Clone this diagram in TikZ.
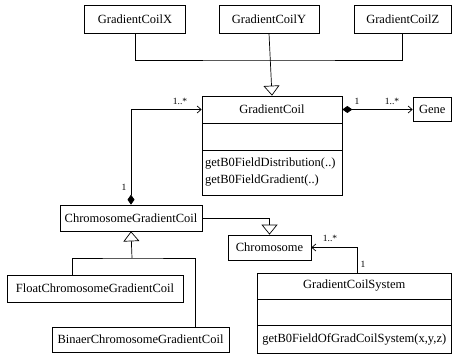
\documentclass[tikz,border=0pt]{standalone}
\usepackage{fontspec}
\setmainfont{Liberation Serif}
\usetikzlibrary{arrows.meta}

\begin{document}
\begin{tikzpicture}[x=1pt, y=-1pt, line width=0.7pt,
  cls/.style={draw, rectangle, inner sep=0pt, font=\fontsize{12.5}{17}\selectfont},
  mult/.style={inner sep=0pt, font=\fontsize{9.5}{11}\selectfont},
  inherit/.style={-{Triangle[open,length=10pt,width=16pt]}},
  assoc/.style={-{Straight Barb[length=4pt,width=7pt]}},
  compo/.style={{Diamond[length=10pt,width=7pt]}-{Straight Barb[length=4pt,width=7pt]}},
]

\useasboundingbox (0,0) rectangle (452,358);

\node[cls, minimum width=101pt, minimum height=28pt] (gcx) at (135,19) {GradientCoilX};
\node[cls, minimum width=100pt, minimum height=28pt] (gcy) at (269,19) {GradientCoilY};
\node[cls, minimum width=97.5pt, minimum height=28pt] (gcz) at (402.75,19) {GradientCoilZ};

\node[cls, minimum width=140pt, minimum height=27pt] (gch) at (272,109.5) {GradientCoil};
\node[cls, minimum width=140pt, minimum height=27pt] (gca) at (272,136.5) {};
\node[cls, minimum width=140pt, minimum height=45pt, text width=134pt, align=left] (gcm) at (272,172.5)
  {getB0FieldDistribution(..)\\getB0FieldGradient(..)};

\node[cls, minimum width=38.5pt, minimum height=24pt] (gene) at (432.25,109.5) {Gene};

\node[cls, minimum width=142pt, minimum height=26pt] (cgc) at (131,218) {ChromosomeGradientCoil};
\node[cls, minimum width=83pt, minimum height=25pt] (chr) at (269.5,247.5) {Chromosome};
\node[cls, minimum width=176pt, minimum height=27pt] (fcgc) at (95,288.5) {FloatChromosomeGradientCoil};
\node[cls, minimum width=177pt, minimum height=25pt] (bcgc) at (140.5,339.5) {BinaerChromosomeGradientCoil};

\node[cls, minimum width=194.5pt, minimum height=26pt] (gcsh) at (354.25,286) {GradientCoilSystem};
\node[cls, minimum width=194.5pt, minimum height=26pt] (gcsa) at (354.25,312) {};
\node[cls, minimum width=194.5pt, minimum height=28pt] (gcsm) at (354.25,339) {getB0FieldOfGradCoilSystem(x,y,z)};

\coordinate (hub) at (269,60);
\coordinate (split) at (132,258);

\draw (gcx.south) |- (hub) -| (gcz.south);
\draw[inherit] (gcy.south) -- (gch.north);

\draw[compo] (gch.east) -- (gene.west);
\draw[compo] (cgc.north) |- (gch.west);

\draw[inherit] (cgc.east) -| (chr.north);
\draw[inherit] (split) -- (cgc.south);
\draw ([xshift=-23pt]fcgc.north) |- (split) -| ([xshift=54.5pt]bcgc.north);

\draw[assoc] ([xshift=3pt]gcsh.north) |- (chr.east);

\node[mult] (m1) at (180,101) {1..*};
\node[mult] (m2) at (124,187) {1};
\node[mult] (m3) at (357,101) {1};
\node[mult] (m4) at (392,101) {1..*};
\node[mult] (m5) at (330,238) {1..*};
\node[mult] (m6) at (363,264) {1};

\end{tikzpicture}
\end{document}
